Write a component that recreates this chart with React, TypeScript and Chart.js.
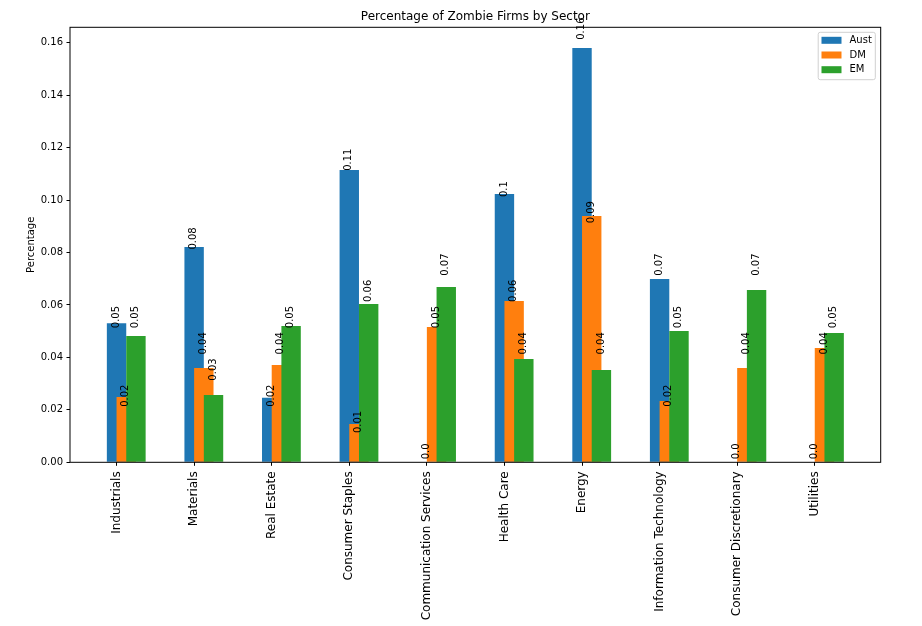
import { useEffect, useRef } from 'react';
import { Chart, registerables } from 'chart.js';

Chart.register(...registerables);

const categories = [
  'Industrials',
  'Materials',
  'Real Estate',
  'Consumer Staples',
  'Communication Services',
  'Health Care',
  'Energy',
  'Information Technology',
  'Consumer Discretionary',
  'Utilities',
];
const aust = [0.053, 0.0821, 0.0246, 0.1115, 0, 0.1023, 0.158, 0.0699, 0, 0];
const dm = [0.0249, 0.036, 0.0371, 0.0146, 0.0516, 0.0615, 0.0939, 0.0234, 0.036, 0.0436];
const em = [0.0482, 0.0257, 0.052, 0.0604, 0.0669, 0.0394, 0.0352, 0.0501, 0.0657, 0.0493];
const seriesNames = ['Aust', 'DM', 'EM'];
const yTickValues = [0, 0.02, 0.04, 0.06, 0.08, 0.1, 0.12, 0.14, 0.16];
const titleText = 'Percentage of Zombie Firms by Sector';
const yTitle = 'Percentage';

const COLORS = ['#1f77b4', '#ff7f0e', '#2ca02c'];
const FONT = "'DejaVu Sans', sans-serif";

function pyRound2(v: number): string {
  const r = Math.round(v * 100) / 100;
  let s = String(r);
  if (!s.includes('.')) s += '.0';
  return s;
}

export default function App() {
  const ref = useRef<HTMLCanvasElement>(null);

  useEffect(() => {
    if (!ref.current) return;
    Chart.defaults.font.family = FONT;
    Chart.defaults.color = '#000';

    const seriesData = [aust, dm, em];
    const barW = 0.25;
    const step = 0.125;
    const datasets = seriesData.map((arr, k) => ({
      label: seriesNames[k],
      data: arr.map((v, i) => ({ x: i + k * step, y: v })),
      backgroundColor: COLORS[k],
      borderWidth: 0,
      grouped: false,
      barPercentage: 1,
      categoryPercentage: barW / step,
      order: seriesData.length - k,
    }));

    const dataMinX = -barW / 2;
    const dataMaxX = categories.length - 1 + (seriesData.length - 1) * step + barW / 2;
    const xr = dataMaxX - dataMinX;
    const maxVal = Math.max(...aust, ...dm, ...em);

    const framePlugin = {
      id: 'frame',
      afterDatasetsDraw(chart: any) {
        const { ctx, chartArea: a } = chart;
        ctx.save();
        ctx.strokeStyle = '#000';
        ctx.lineWidth = 1;
        ctx.strokeRect(a.left, a.top, a.right - a.left, a.bottom - a.top);
        ctx.restore();

        // value labels
        const yScale = chart.scales.y;
        ctx.save();
        ctx.fillStyle = '#000';
        ctx.font = `10px ${FONT}`;
        chart.data.datasets.forEach((ds: any, di: number) => {
          const meta = chart.getDatasetMeta(di);
          meta.data.forEach((el: any, i: number) => {
            const v = ds.data[i].y;
            const txt = pyRound2(v);
            const r = Math.round(v * 100) / 100;
            const y = yScale.getPixelForValue(r) - 3;
            ctx.save();
            ctx.translate(el.x - 0.5, y);
            ctx.rotate(-Math.PI / 2);
            ctx.textAlign = 'left';
            ctx.textBaseline = 'middle';
            ctx.fillText(txt, 0, 0);
            ctx.restore();
          });
        });
        ctx.restore();
      },
    };

    const overlayPlugin = {
      id: 'overlay',
      afterDraw(chart: any) {
        const { ctx, chartArea: a } = chart;
        ctx.save();
        // title
        ctx.fillStyle = '#000';
        ctx.font = `12px ${FONT}`;
        ctx.textAlign = 'center';
        ctx.textBaseline = 'alphabetic';
        ctx.fillText(titleText, (a.left + a.right) / 2, a.top - 7);

        // legend
        ctx.font = `10px ${FONT}`;
        const labels = chart.data.datasets.map((d: any) => d.label);
        const maxW = Math.max(...labels.map((l: string) => ctx.measureText(l).width));
        const right = a.right - 5.4;
        const top = a.top + 5;
        const rowH = 14.7;
        const width = 3.3 + 20 + 8 + maxW + 3.5;
        const height = 8 + rowH * (labels.length - 1) + 10;
        const left = right - width;
        ctx.beginPath();
        const rr = 2;
        ctx.moveTo(left + rr, top);
        ctx.lineTo(right - rr, top);
        ctx.quadraticCurveTo(right, top, right, top + rr);
        ctx.lineTo(right, top + height - rr);
        ctx.quadraticCurveTo(right, top + height, right - rr, top + height);
        ctx.lineTo(left + rr, top + height);
        ctx.quadraticCurveTo(left, top + height, left, top + height - rr);
        ctx.lineTo(left, top + rr);
        ctx.quadraticCurveTo(left, top, left + rr, top);
        ctx.closePath();
        ctx.fillStyle = 'rgba(255,255,255,0.8)';
        ctx.fill();
        ctx.strokeStyle = '#d0d0d0';
        ctx.lineWidth = 1;
        ctx.stroke();
        chart.data.datasets.forEach((d: any, i: number) => {
          const cy = top + 8 + rowH * i;
          ctx.fillStyle = d.backgroundColor;
          ctx.fillRect(left + 3.3, cy - 3.5, 20, 7);
          ctx.fillStyle = '#000';
          ctx.textAlign = 'left';
          ctx.textBaseline = 'middle';
          ctx.fillText(d.label, left + 3.3 + 20 + 8, cy);
        });
        ctx.restore();
      },
    };

    const chart = new Chart(ref.current, {
      type: 'bar',
      data: { datasets: datasets as any },
      options: {
        animation: false,
        responsive: true,
        maintainAspectRatio: false,
        layout: { padding: { top: 27.3, right: 41.3, left: 0, bottom: 0 } },
        plugins: {
          legend: { display: false },
          tooltip: { enabled: false },
          title: { display: false },
        },
        scales: {
          x: {
            type: 'linear',
            min: dataMinX - 0.05 * xr,
            max: dataMaxX + 0.05 * xr,
            offset: false,
            grid: {
              display: true,
              offset: false,
              drawOnChartArea: false,
              drawTicks: true,
              tickLength: 3.5,
              tickColor: '#000',
              tickWidth: 1,
            },
            border: { display: false },
            afterBuildTicks: (s: any) => {
              s.ticks = categories.map((_, i) => ({ value: i }));
            },
            afterFit: (s: any) => {
              s.height = 626 - 462.3;
            },
            ticks: {
              autoSkip: false,
              minRotation: 90,
              maxRotation: 90,
              padding: 5.5,
              color: '#000',
              font: { size: 12, family: FONT },
              callback: (v: any) => categories[Math.round(Number(v))] ?? '',
            },
          },
          y: {
            type: 'linear',
            min: 0,
            max: maxVal * 1.05,
            grid: {
              display: true,
              offset: false,
              drawOnChartArea: false,
              drawTicks: true,
              tickLength: 3.5,
              tickColor: '#000',
              tickWidth: 1,
            },
            border: { display: false },
            afterBuildTicks: (s: any) => {
              s.ticks = yTickValues.map((v) => ({ value: v }));
            },
            afterFit: (s: any) => {
              s.width = 70;
            },
            ticks: {
              padding: 3.5,
              color: '#000',
              font: { size: 10, family: FONT },
              callback: (v: any) => Number(v).toFixed(2),
            },
            title: {
              display: true,
              text: yTitle,
              color: '#000',
              font: { size: 10, family: FONT },
              padding: { top: 25.3, bottom: 0 },
            },
          },
        },
      },
      plugins: [framePlugin, overlayPlugin],
    });

    return () => chart.destroy();
  }, []);

  return (
    <div style={{ position: 'fixed', left: 0, top: 0, width: 922, height: 626, background: '#fff' }}>
      <canvas ref={ref} />
    </div>
  );
}
